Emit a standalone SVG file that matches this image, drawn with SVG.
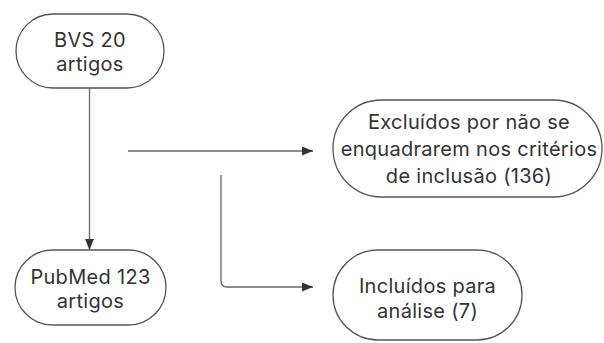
<svg xmlns="http://www.w3.org/2000/svg" width="604" height="343" viewBox="0 0 604 343">
<defs>
<marker id="ah" viewBox="0 0 10 10" refX="10" refY="5" markerWidth="11" markerHeight="11" markerUnits="userSpaceOnUse" orient="auto">
<path d="M0,1 L10,5 L0,9 Z" fill="#333"/>
</marker>
</defs>
<style>
.n{fill:#fff;stroke:#555;stroke-width:1.3}
.t{font-family:Inter,"Liberation Sans",sans-serif;font-size:20px;letter-spacing:0.3px;fill:#333;text-anchor:middle}
.c{fill:none;stroke:#666;stroke-width:1.3}
</style>
<rect width="604" height="343" fill="#fff"/>
<g id="connectors">
<path class="c" d="M89.5,88 V250" marker-end="url(#ah)"/>
<path class="c" d="M128,151 H313" marker-end="url(#ah)"/>
<path class="c" d="M221,175 V281 Q221,287 227,287 H313" marker-end="url(#ah)"/>
</g>
<g id="bvs">
<rect class="n" x="16" y="14" width="148" height="74" rx="37"/>
<text class="t" x="90" y="47">BVS 20</text>
<text class="t" x="90" y="71">artigos</text>
</g>
<g id="pubmed">
<rect class="n" x="15" y="250" width="151" height="75" rx="37.5"/>
<text class="t" x="90.5" y="284">PubMed 123</text>
<text class="t" x="90.5" y="308">artigos</text>
</g>
<g id="excluidos">
<rect class="n" x="333" y="100" width="269" height="97" rx="48.5"/>
<text class="t" x="469" y="129">Excluídos por não se</text>
<text class="t" x="469" y="156">enquadrarem nos critérios</text>
<text class="t" x="469" y="183">de inclusão (136)</text>
</g>
<g id="incluidos">
<rect class="n" x="333" y="250" width="189" height="90" rx="45"/>
<text class="t" x="427.5" y="293">Incluídos para</text>
<text class="t" x="427.5" y="318">análise (7)</text>
</g>
</svg>
